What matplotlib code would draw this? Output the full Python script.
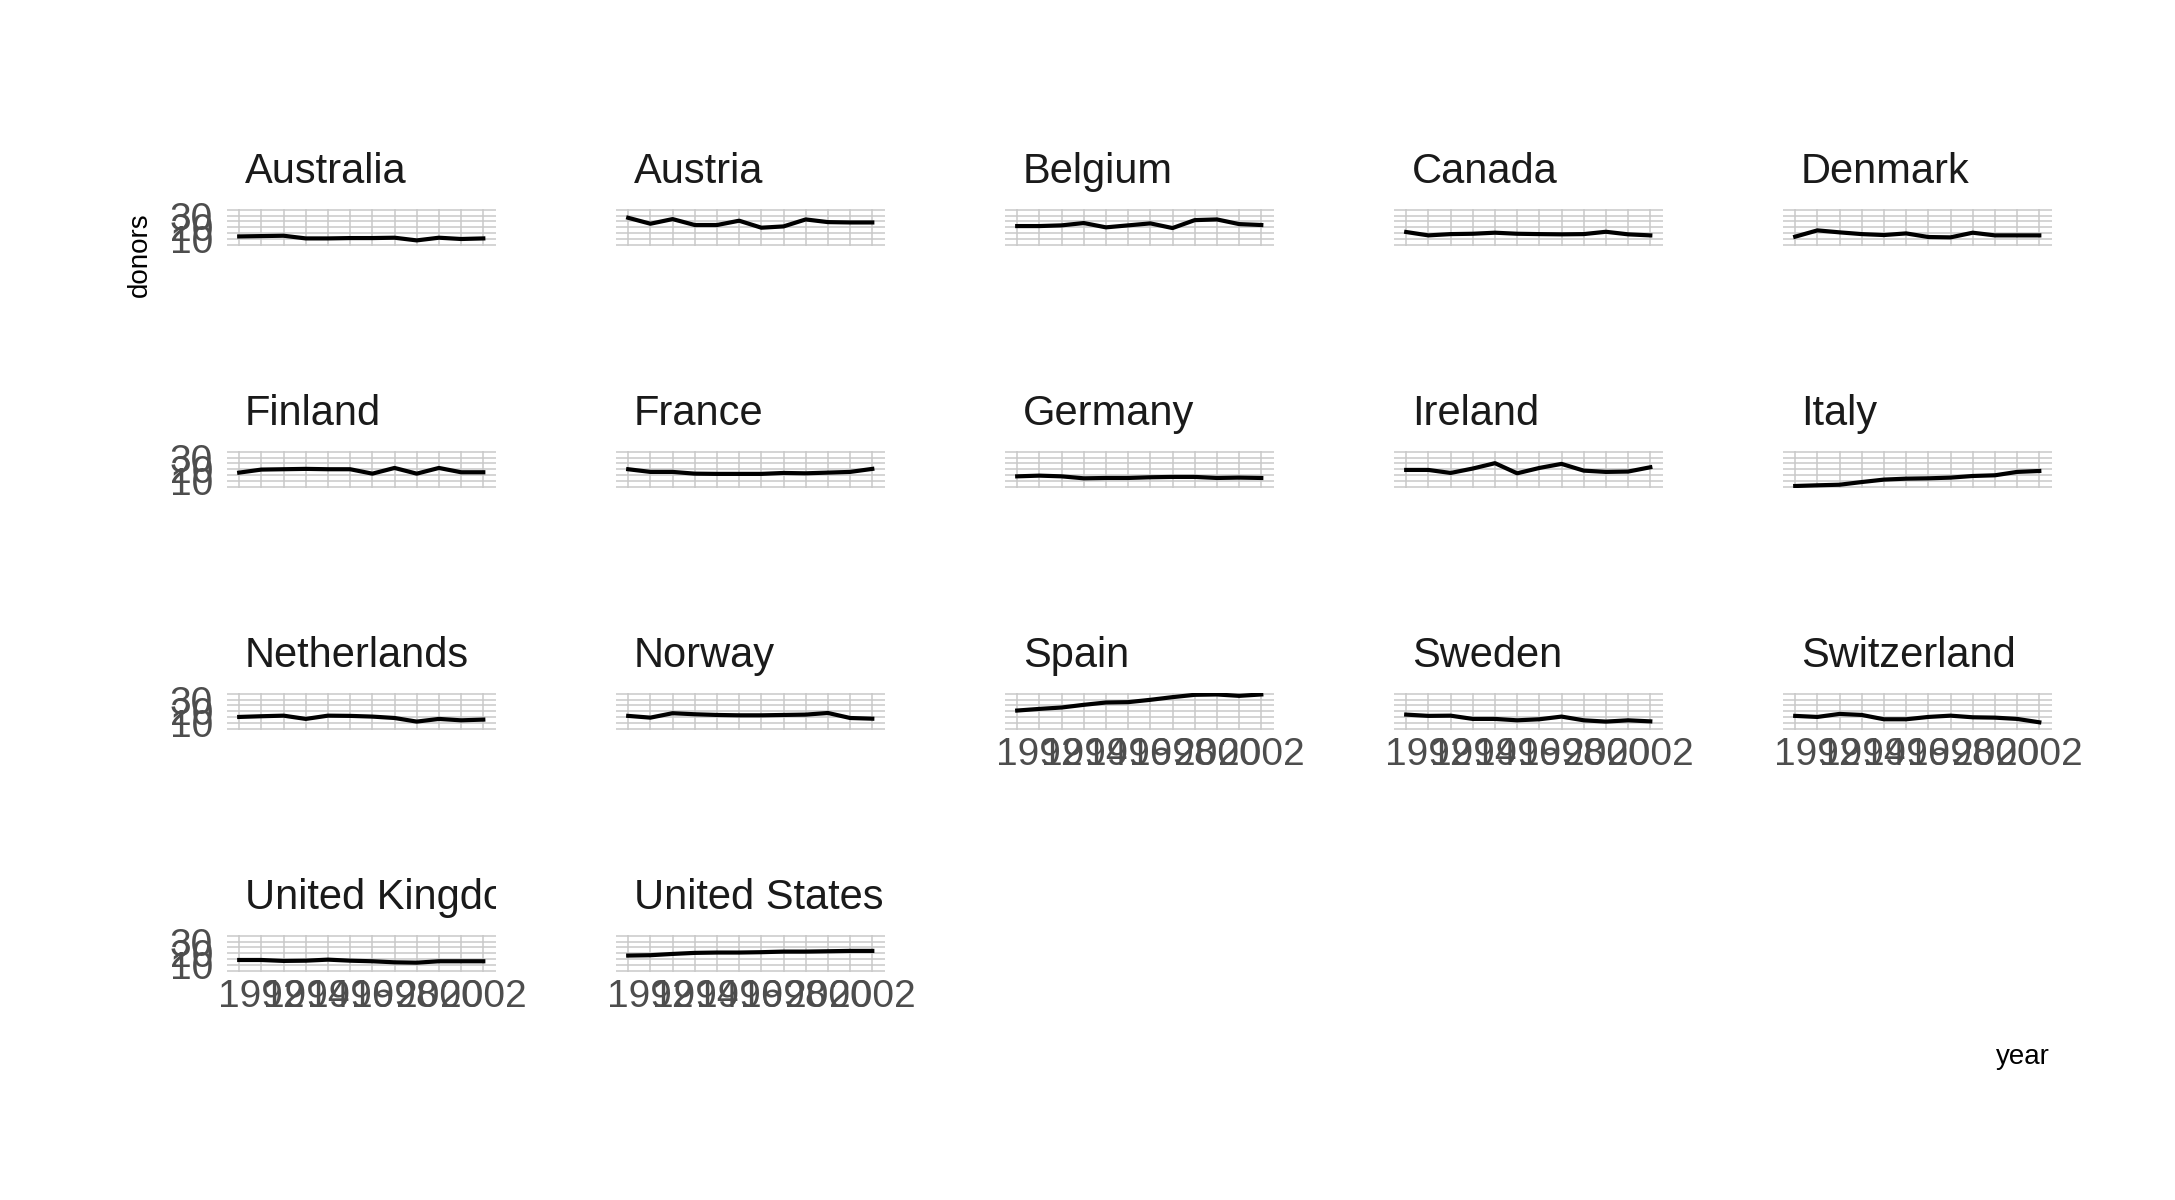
import matplotlib
matplotlib.use("Agg")
import matplotlib.pyplot as plt

plt.rcParams['font.family'] = ['Liberation Sans', 'DejaVu Sans']

years = list(range(1991, 2003))
countries = ["Australia", "Austria", "Belgium", "Canada", "Denmark",
             "Finland", "France", "Germany", "Ireland", "Italy",
             "Netherlands", "Norway", "Spain", "Sweden", "Switzerland",
             "United Kingdom", "United States"]

# donors per million
australia = [12.1, 12.4, 12.7, 10.4, 10.4, 10.7, 10.7, 11.0, 8.7, 11.0, 9.9, 10.4]
austria = [28.1, 23.0, 27.0, 21.9, 21.9, 25.6, 19.6, 20.7, 26.7, 24.4, 24.1, 24.1]
belgium = [21.0, 21.0, 21.6, 23.6, 19.9, 21.6, 23.3, 19.3, 26.1, 26.7, 22.7, 21.9]
canada = [15.9, 13.0, 14.1, 14.4, 15.3, 14.4, 14.1, 13.9, 14.1, 16.1, 13.9, 13.0]
denmark = [11.9, 17.3, 15.6, 14.1, 13.3, 14.7, 11.6, 11.3, 15.3, 13.0, 13.0, 13.0]
finland = [17.1, 19.7, 20.0, 20.3, 20.0, 20.0, 16.2, 21.1, 16.2, 21.1, 17.4, 17.4]
france = [20.0, 17.7, 17.7, 16.2, 16.0, 16.0, 16.0, 16.8, 16.5, 17.1, 17.7, 20.3]
germany = [13.9, 14.5, 13.9, 12.2, 12.5, 12.5, 13.1, 13.4, 13.4, 12.5, 12.8, 12.5]
ireland = [19.4, 19.4, 16.8, 20.6, 25.2, 16.5, 21.1, 24.6, 18.8, 17.7, 18.0, 21.7]
italy = [5.6, 6.2, 6.7, 9.0, 11.1, 11.9, 12.2, 12.8, 14.2, 14.8, 17.7, 18.5]
netherlands = [15.1, 15.7, 16.2, 13.4, 16.2, 16.0, 15.4, 14.2, 11.1, 13.4, 12.2, 12.8]
norway = [16.0, 14.5, 18.3, 17.4, 16.8, 16.5, 16.5, 16.8, 17.1, 18.5, 14.2, 13.6]
spain = [20.6, 22.0, 23.2, 25.5, 27.5, 27.8, 29.8, 32.1, 34.1, 34.4, 33.2, 34.4]
sweden = [17.1, 16.0, 16.2, 13.4, 13.4, 12.2, 13.1, 15.4, 12.2, 11.1, 12.2, 11.3]
switzerland = [16.0, 15.1, 17.7, 16.8, 13.1, 13.1, 15.1, 16.2, 14.8, 14.5, 13.4, 10.5]
uk = [14.2, 14.2, 13.4, 13.6, 14.5, 13.6, 13.1, 12.2, 11.9, 13.1, 13.1, 13.1]
us = [18.0, 18.3, 19.4, 20.3, 20.6, 20.6, 20.9, 21.4, 21.4, 21.7, 22.0, 22.0]

series = [australia, austria, belgium, canada, denmark, finland, france,
          germany, ireland, italy, netherlands, norway, spain, sweden,
          switzerland, uk, us]

x_ticks = [1992, 1994, 1996, 1998, 2000, 2002]
y_ticks = [10, 20, 30]
y_grid = [5, 10, 15, 20, 25, 30, 35]

W, H = 2175, 1200
fig = plt.figure(figsize=(W / 100, H / 100), dpi=100)


def px_axes(x0, y0, w, h):
    return fig.add_axes([x0 / W, 1 - (y0 + h) / H, w / W, h / H])


ncol = 5
left0, colstep, pw = 227, 389, 268.5
top0, rowstep, ph = 209.3, 242, 36.8
strip_h = 90
grid_c = '#c9c9c9'
n = len(countries)

for i, (name, vals) in enumerate(zip(countries, series)):
    r, c = divmod(i, ncol)
    x0 = left0 + c * colstep
    y0 = top0 + r * rowstep
    ax = px_axes(x0, y0, pw, ph)
    for s in ax.spines.values():
        s.set_visible(False)
    for yr in years:
        ax.axvline(yr, color=grid_c, lw=1.1, zorder=0)
    for g in y_grid:
        ax.axhline(g, color=grid_c, lw=1.1, zorder=0)
    ax.plot(years, vals, color='black', lw=3.0, solid_joinstyle='round', zorder=3)
    ax.set_xlim(1990.45, 2002.55)
    ax.set_ylim(3.8, 35.4)
    ax.tick_params(length=0, labelsize=28, labelcolor='#4d4d4d')
    ax.set_xticks(x_ticks)
    ax.set_yticks(y_ticks)
    if i + ncol >= n:
        ax.tick_params(axis='x', pad=5)
    else:
        ax.set_xticklabels([])
    if c == 0:
        ax.tick_params(axis='y', pad=10)
    else:
        ax.set_yticklabels([])

    # strip title, clipped to the panel width like the reference
    st = px_axes(x0, y0 - strip_h, pw, strip_h)
    st.axis('off')
    st.set_xlim(0, pw)
    st.set_ylim(0, strip_h)
    st.text(18, 26, name, fontsize=30, color='#1a1a1a',
            va='baseline', ha='left', clip_on=True)

fig.text(140 / W, 1 - 212 / H, "donors", rotation=90, fontsize=20,
         ha='center', va='top')
fig.text(2050 / W, 1 - 1057 / H, "year", fontsize=20, ha='right', va='center')

fig.savefig("out.png", dpi=100, facecolor='white')
